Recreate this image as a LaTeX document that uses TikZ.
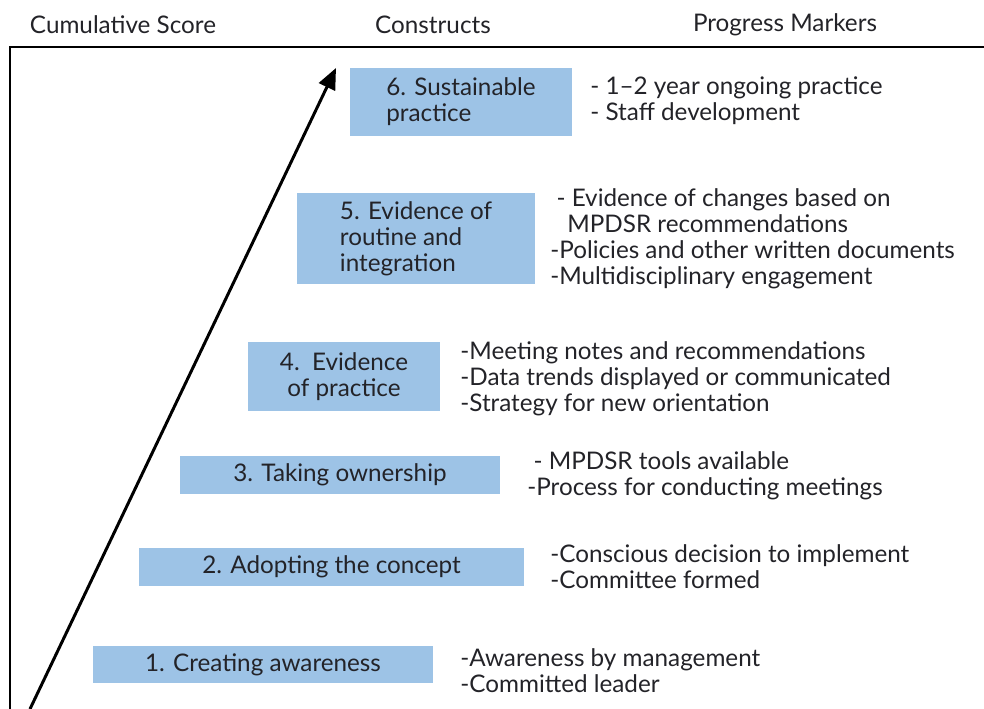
\documentclass[tikz,border=0pt]{standalone}
\usepackage{fontspec}
\usetikzlibrary{arrows.meta}
\setmainfont{Lato}
\definecolor{stepblue}{RGB}{157,195,230}
\definecolor{inkgray}{RGB}{35,35,40}
\tikzset{
  construct/.style={fill=stepblue, draw=none, inner sep=0pt, text=inkgray},
  marker/.style={anchor=west, align=left, inner sep=0pt, text=inkgray},
  header/.style={text=inkgray},
}
\begin{document}
\begin{tikzpicture}[x=0.02cm, y=-0.02cm, font=\fontsize{13.8}{14.8}\selectfont]
\useasboundingbox (0,0) rectangle (984,709);

% column headings
\node[header] (hscore) at (123,25) {Cumulative Score};
\node[header] (hconst) at (433,25) {Constructs};
\node[header] (hmark)  at (785,25) {Progress Markers};

% frame
\draw[line width=1.7pt] (984,47) -- (10,47) -- (10,709);

% rising score
\coordinate (low) at (30,709);
\coordinate (high) at (336,68);
\draw[line width=1.7pt, -{Triangle[length=12pt, width=10pt]}] (low) -- (high);

% constructs
\node[construct, minimum width=4.44cm, minimum height=1.36cm, align=left] (c6) at (461,102) {6. Sustainable\\practice};
\node[construct, minimum width=4.76cm, minimum height=1.82cm, align=left] (c5) at (416,238.5) {5. Evidence of\\routine and\\integration};
\node[construct, minimum width=3.84cm, minimum height=1.38cm, align=center] (c4) at (344,376.5) {4.\ \ Evidence\\of practice};
\node[construct, minimum width=6.4cm, minimum height=0.76cm] (c3) at (340,475) {3. Taking ownership};
\node[construct, minimum width=7.7cm, minimum height=0.76cm] (c2) at (331.5,567) {2. Adopting the concept};
\node[construct, minimum width=6.8cm, minimum height=0.74cm] (c1) at (263,664.5) {1. Creating awareness};

% progress markers
\node[marker] (m6) at (590,101) {- 1--2 year ongoing practice\\- Staff development};
\node[marker] (m5) at (550,238.5) {\ - Evidence of changes based on\\\hspace*{0.7em}MPDSR recommendations\\-Policies and other written documents\\-Multidisciplinary engagement};
\node[marker] (m4) at (460,379) {-Meeting notes and recommendations\\-Data trends displayed or communicated\\-Strategy for new orientation};
\node[marker] (m3) at (527,476) {\ - MPDSR tools available\\-Process for conducting meetings};
\node[marker] (m2) at (550,566.5) {-Conscious decision to implement\\-Committee formed};
\node[marker] (m1) at (460,670.5) {-Awareness by management\\-Committed leader};

\end{tikzpicture}
\end{document}
